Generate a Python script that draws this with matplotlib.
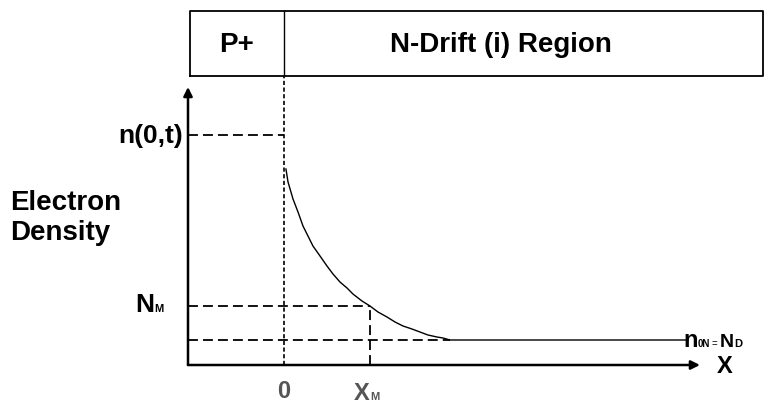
import matplotlib
matplotlib.use("Agg")
import matplotlib.pyplot as plt

# Electron density profile in the N-drift region (schematic units)
x_pos = [0.023, 0.047, 0.105, 0.163, 0.221, 0.279, 0.337, 0.419, 0.50,
         0.570, 0.651, 0.733, 0.802, 0.907, 1.0, 1.093, 1.198, 1.291,
         1.384, 1.488, 1.581, 1.674, 1.779, 1.849, 1.93, 4.70]
density = [7.84, 7.32, 6.64, 6.12, 5.56, 5.16, 4.76, 4.36, 3.96,
           3.64, 3.32, 3.08, 2.84, 2.56, 2.36, 2.12, 1.92, 1.72,
           1.56, 1.44, 1.32, 1.20, 1.12, 1.08, 1.0, 1.0]

n0t = 9.2      # n(0,t)
n_m = 2.36     # N_M
n_d = 1.0      # n0N = N_D
x_m = 1.0      # X_M

region_labels = ["P+", "N-Drift (i) Region"]

# frame of the sketch
y_axis_x = -1.116
x_axis_end = 4.837
y_axis_end = 11.12
box_left, box_right = -1.093, 5.57
box_bottom, box_top = 11.56, 14.16

plt.rcParams['font.family'] = ['Liberation Sans', 'DejaVu Sans']

fig = plt.figure(figsize=(7.71, 4.06), dpi=100)
ax = fig.add_axes([0, 0, 1, 1])
ax.set_xlim(-3.302, 5.663)
ax.set_ylim(-1.6, 14.64)
ax.axis('off')

# region box on top
box_x = [box_left, box_right, box_right, box_left, box_left]
box_y = [box_bottom, box_bottom, box_top, box_top, box_bottom]
ax.plot(box_x, box_y, color='black', lw=1.3)
ax.plot([0, 0], [box_bottom, box_top], color='black', lw=1.0)
ax.text((box_left + 0) / 2, (box_bottom + box_top) / 2, region_labels[0],
        ha='center', va='center', fontsize=20, fontweight='bold')
ax.text(2.523, (box_bottom + box_top) / 2, region_labels[1],
        ha='center', va='center', fontsize=20, fontweight='bold')

# axes with arrows
arrow = dict(arrowstyle='-|>', lw=1.8, color='black',
             mutation_scale=13, shrinkA=0, shrinkB=0)
ax.annotate('', xy=(y_axis_x, y_axis_end), xytext=(y_axis_x, 0),
            arrowprops=arrow)
ax.annotate('', xy=(x_axis_end, 0), xytext=(y_axis_x, 0),
            arrowprops=arrow)

# guide lines
dash = dict(color='black', lw=1.3, dashes=(5.5, 2.8))
ax.plot([y_axis_x, 0], [n0t, n0t], **dash)
ax.plot([y_axis_x, x_m], [n_m, n_m], **dash)
ax.plot([x_m, x_m], [0, n_m], **dash)
ax.plot([y_axis_x, x_pos[-2]], [n_d, n_d], **dash)
ax.plot([0, 0], [0, box_bottom], color='black', lw=1.2, dashes=(2.5, 1.5))

# density curve
ax.plot(x_pos, density, color='black', lw=1.0)

# labels
ax.text(y_axis_x - 0.06, n0t, "n(0,t)", ha='right', va='center',
        fontsize=19, fontweight='bold')
ax.text(-3.186, 5.92, "Electron\nDensity", ha='left', va='center',
        fontsize=20, fontweight='bold', linespacing=1.2)

ax.text(-1.512, n_m - 0.2, "N", ha='right', va='baseline',
        fontsize=19, fontweight='bold')
ax.text(-1.512, n_m - 0.2, "M", ha='left', va='baseline',
        fontsize=8, fontweight='bold')

ax.text(0, -1.04, "0", ha='center', va='center', fontsize=17,
        fontweight='bold', color='#555555')
ax.text(x_m, -1.36, "X", ha='right', va='baseline', fontsize=17,
        fontweight='bold', color='#555555')
ax.text(x_m, -1.36, "M", ha='left', va='baseline', fontsize=8,
        fontweight='bold', color='#555555')

# n0N = ND label at the end of the curve
base = n_d - 0.24
ax.text(4.640, base, "n", ha='left', va='baseline', fontsize=17,
        fontweight='bold')
ax.text(4.814, base, "0N", ha='left', va='baseline', fontsize=7,
        fontweight='bold')
ax.text(4.977, base, "=", ha='left', va='baseline', fontsize=7)
ax.text(5.070, base, "N", ha='left', va='baseline', fontsize=14,
        fontweight='bold')
ax.text(5.233, base, "D", ha='left', va='baseline', fontsize=8,
        fontweight='bold')

ax.text(5.128, -0.04, "X", ha='center', va='center', fontsize=17,
        fontweight='bold')

fig.savefig("out.png", dpi=100)
